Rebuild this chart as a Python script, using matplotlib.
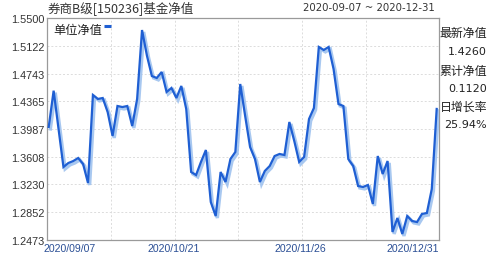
import matplotlib
matplotlib.use("Agg")
import matplotlib.pyplot as plt
import matplotlib.patheffects as pe
import matplotlib.transforms as mtransforms

# ---- data ----
title = "券商B级[150236]基金净值"
date_range = "2020-09-07 ~ 2020-12-31"
series_name = "单位净值"
nav = [1.4014, 1.4509, 1.3987, 1.3468, 1.3523, 1.3550, 1.3591, 1.3509, 1.3250, 1.4450,
       1.4396, 1.4409, 1.4218, 1.3891, 1.4300, 1.4286, 1.4300, 1.4027, 1.4396, 1.5336,
       1.4986, 1.4709, 1.4682, 1.4764, 1.4491, 1.4546, 1.4409, 1.4573, 1.4259, 1.3400,
       1.3359, 1.3537, 1.3700, 1.2991, 1.2800, 1.3400, 1.3264, 1.3577, 1.3673, 1.4600,
       1.4164, 1.3741, 1.3577, 1.3264, 1.3414, 1.3482, 1.3618, 1.3646, 1.3632, 1.4082,
       1.3823, 1.3537, 1.3605, 1.4123, 1.4273, 1.5105, 1.5064, 1.5105, 1.4805, 1.4327,
       1.4300, 1.3577, 1.3482, 1.3209, 1.3196, 1.3223, 1.2964, 1.3618, 1.3373, 1.3550,
       1.2582, 1.2773, 1.2555, 1.2800, 1.2732, 1.2718, 1.2828, 1.2841, 1.3168, 1.4260]
y_ticks = [1.2473, 1.2852, 1.3230, 1.3608, 1.3987, 1.4365, 1.4743, 1.5122, 1.5500]
x_labels = ["2020/09/07", "2020/10/21", "2020/11/26", "2020/12/31"]
info_labels = ["最新净值", "1.4260", "累计净值", "0.1120", "日增长率", "25.94%"]

cjk = ["Noto Sans CJK SC", "DejaVu Sans"]
num_font = ["Liberation Sans", "DejaVu Sans"]

fig = plt.figure(figsize=(4.88, 2.55), dpi=100)
fig.patch.set_facecolor("white")
ax = fig.add_axes([47/488, 14/255, 391.5/488, 222/255])

x = list(range(len(nav)))
line_color = "#1f5fd3"
ax.plot(x, nav, color=line_color, lw=1.6, solid_joinstyle="miter", zorder=3,
        path_effects=[pe.SimpleLineShadow(offset=(1.2, -1.4), shadow_color="#9fc2ef",
                                          alpha=0.9, linewidth=2.4),
                      pe.Normal()])

n = len(nav)
ax.set_xlim(-0.35, n - 1 + 0.37)
ax.set_ylim(y_ticks[0], y_ticks[-1])

# grid
ax.set_yticks(y_ticks)
ax.set_yticklabels([f"{v:.4f}" for v in y_ticks], fontfamily=num_font, fontsize=7.8, color="#333333")
x0, x1 = ax.get_xlim()
grid_fracs = [0.163 * k for k in range(1, 6)]
ax.set_xticks([x0 + f * (x1 - x0) for f in grid_fracs])
ax.set_xticklabels([])
ax.tick_params(axis="both", length=0, pad=2)
ax.grid(True, color="#dcdcdc", lw=0.7, ls=(0, (2, 2)))
ax.set_axisbelow(True)
for s in ax.spines.values():
    s.set_color("#9a9a9a")
    s.set_linewidth(0.9)

# x labels
trans = mtransforms.blended_transform_factory(ax.transAxes, ax.transAxes)
label_pos = [(-0.008, "left"), (0.323, "center"), (0.648, "center"), (1.002, "right")]
for (xf, ha), lab in zip(label_pos, x_labels):
    ax.text(xf, -0.012, lab, transform=trans, ha=ha, va="top",
            fontfamily=num_font, fontsize=7.6, color="#2b4f95")

# legend
ax.text(0.015, 0.95, series_name, transform=ax.transAxes, ha="left", va="center",
        fontfamily=cjk, fontsize=8.8, color="#222222")
ax.plot([0.146, 0.164], [0.965, 0.965], transform=ax.transAxes, color=line_color,
        lw=2.2, solid_capstyle="butt", clip_on=False)

# title and date range
fig.text(48/488, 1 - 9/255, title, ha="left", va="center", fontfamily=cjk,
         fontsize=9, color="#333333")
fig.text(435/488, 1 - 8/255, date_range, ha="right", va="center",
         fontfamily=["DejaVu Sans"], fontsize=7.3, color="#333333")

# right info panel
ys = [33, 52, 71, 89, 107, 125]
for i, (lab, yy) in enumerate(zip(info_labels, ys)):
    fam = cjk if i % 2 == 0 else ["DejaVu Sans"]
    fs = 8.6 if i % 2 == 0 else 8
    fig.text(487/488, 1 - yy/255, lab, ha="right", va="center", fontfamily=fam,
             fontsize=fs, color="#222222")

fig.savefig("out.png", dpi=100, facecolor="white")
